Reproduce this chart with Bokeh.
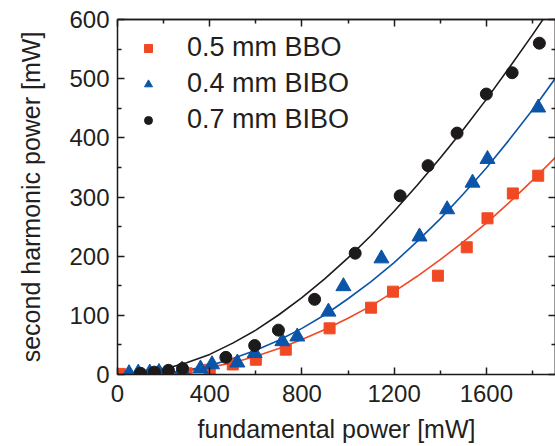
from bokeh.plotting import figure
from bokeh.models import LinearAxis, Range1d, Legend, LegendItem, FixedTicker
from bokeh.embed import file_html
from bokeh.resources import INLINE

# ---- data ----
bbo_x = [10, 300, 400, 500, 600, 730, 920, 1100, 1195, 1390, 1515, 1605, 1715, 1825]
bbo_y = [1, 2, 8, 17, 25, 42, 78, 113, 140, 167, 215, 264, 306, 336]

bibo04_x = [50, 90, 140, 180, 280, 360, 410, 520, 595, 715, 780, 915, 980, 1145, 1310, 1430, 1540, 1605, 1825]
bibo04_y = [2, 3, 3, 4, 8, 10, 17, 20, 36, 56, 64, 106, 149, 196, 233, 279, 324, 364, 451]

bibo07_x = [100, 160, 221, 282, 470, 595, 698, 855, 1031, 1226, 1347, 1473, 1600, 1712, 1830]
bibo07_y = [2, 4, 7, 10, 29, 49, 75, 127, 205, 302, 353, 408, 474, 510, 560]

fit_x = [0, 100, 200, 300, 400, 500, 600, 700, 800, 900, 1000, 1100, 1200, 1300, 1400, 1500, 1600, 1700, 1800, 1900]
fit_bbo = [0, 0, 2, 6, 12, 20, 31, 44, 59, 76, 95, 116, 140, 166, 194, 224, 256, 291, 328, 367]
fit_bibo04 = [0, 0, 2, 7, 15, 27, 41, 58, 78, 101, 128, 157, 189, 225, 263, 305, 349, 397, 447, 501]
fit_bibo07 = [0, 2, 9, 20, 34, 53, 75, 101, 130, 162, 197, 235, 276, 320, 366, 414, 465, 519, 574, 631]

labels = ["0.5 mm BBO", "0.4 mm BIBO", "0.7 mm BIBO"]
x_ticks = [0, 400, 800, 1200, 1600]
x_minor = [200, 600, 1000, 1400, 1800]
y_ticks = [0, 100, 200, 300, 400, 500, 600]
y_minor = [50, 150, 250, 350, 450, 550]

RED = "#f04923"
BLUE = "#0b55a8"
BLACK = "#1c1a1b"
TXT = "#231f20"
FONT = "Liberation Sans"

p = figure(width=555, height=446, x_range=Range1d(0, 1900), y_range=Range1d(0, 600),
           output_backend="svg", toolbar_location=None,
           min_border_left=117, min_border_right=0, min_border_top=19, min_border_bottom=72)
p.grid.visible = False
p.outline_line_color = None
p.background_fill_color = "white"
p.border_fill_color = "white"

p.line(fit_x, fit_bbo, line_color=RED, line_width=1.6)
p.line(fit_x, fit_bibo04, line_color=BLUE, line_width=1.6)
p.line(fit_x, fit_bibo07, line_color=BLACK, line_width=1.6)

r1 = p.scatter(bbo_x, bbo_y, marker="square", size=11, fill_color=RED, line_color=RED)
r2 = p.scatter(bibo04_x, bibo04_y, marker="triangle", size=15, fill_color=BLUE, line_color=BLUE)
r3 = p.scatter(bibo07_x, bibo07_y, marker="circle", size=12, fill_color=BLACK, line_color=BLACK)


def base(ax):
    ax.axis_line_width = 1.5
    ax.axis_line_color = BLACK
    ax.major_tick_in = 7
    ax.major_tick_out = 0
    ax.minor_tick_out = 0
    ax.major_tick_line_width = 1.5
    ax.minor_tick_line_width = 1.5
    ax.major_tick_line_color = BLACK
    ax.minor_tick_line_color = BLACK


def labelled(ax, ticks, minor):
    base(ax)
    ax.ticker = FixedTicker(ticks=ticks, minor_ticks=minor)
    ax.minor_tick_in = 4
    ax.major_label_text_font = FONT
    ax.major_label_text_font_size = "24px"
    ax.major_label_text_color = TXT
    ax.axis_label_text_font = FONT
    ax.axis_label_text_font_size = "25px"
    ax.axis_label_text_font_style = "normal"
    ax.axis_label_text_color = TXT


def mirror(place, ticks, length):
    # tick-only axis: positions drawn as minor ticks so no labels are produced
    ax = LinearAxis()
    base(ax)
    ax.ticker = FixedTicker(ticks=[], minor_ticks=ticks)
    ax.minor_tick_in = length
    ax.major_label_standoff = 0
    p.add_layout(ax, place)


xa = p.xaxis[0]
ya = p.yaxis[0]
labelled(xa, x_ticks, x_minor)
labelled(ya, y_ticks, y_minor)
xa.axis_label = "fundamental power [mW]"
ya.axis_label = "second harmonic power [mW]"
xa.major_label_standoff = 10
xa.axis_label_standoff = 10
ya.major_label_standoff = 8
ya.axis_label_standoff = 21

mirror("above", x_ticks, 7)
mirror("above", x_minor, 4)
mirror("right", y_ticks, 7)
mirror("right", y_minor, 4)

legend = Legend(items=[LegendItem(label=labels[0], renderers=[r1]),
                       LegendItem(label=labels[1], renderers=[r2]),
                       LegendItem(label=labels[2], renderers=[r3])],
                location=(21, 239), border_line_color=None, background_fill_alpha=0,
                label_text_font=FONT, label_text_font_size="27px", label_text_color=TXT,
                glyph_width=20, glyph_height=20, label_standoff=29, spacing=5,
                padding=0, margin=0)
p.add_layout(legend)

open("out.html", "w").write(file_html(p, INLINE))
